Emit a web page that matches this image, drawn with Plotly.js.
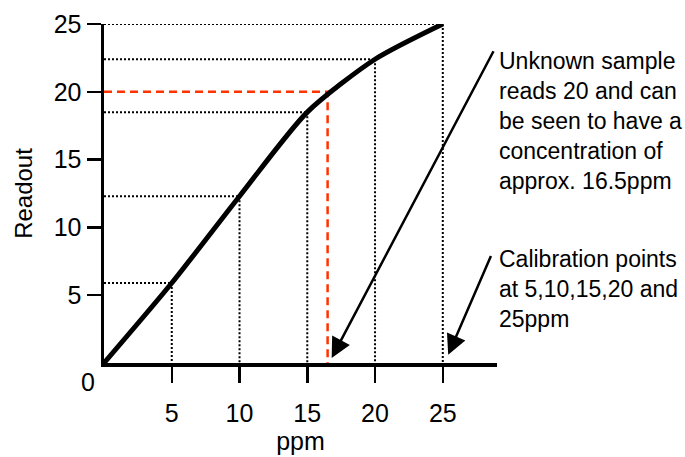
<!DOCTYPE html>
<html>
<head>
<meta charset="utf-8">
<script src="https://cdn.plot.ly/plotly-3.0.1.min.js"></script>
<style>html,body{margin:0;padding:0;background:#fff;}#chart{width:685px;height:457px;}</style>
</head>
<body>
<div id="chart"></div>
<script>
// Calibration data
const calibPpm = [0, 5, 10, 15, 20, 25];
const calibReadout = [0, 5.9, 12.3, 18.5, 22.4, 25];
// Unknown sample
const unknownReadout = 20;
const unknownPpm = 16.5;
// Tick values
const xTicks = [5, 10, 15, 20, 25];
const yTicks = [5, 10, 15, 20, 25];
// Annotation texts
const unknownText = ["Unknown sample", "reads 20 and can", "be seen to have a", "concentration of", "approx. 16.5ppm"];
const calibText = ["Calibration points", "at 5,10,15,20 and", "25ppm"];

const FONT = "Liberation Sans, Arial, Helvetica, sans-serif";

// dotted guide lines built from calibration points
const hx = [], hy = [], vx = [], vy = [];
for (let i = 1; i < calibPpm.length; i++) {
  hx.push(0, calibPpm[i], null); hy.push(calibReadout[i], calibReadout[i], null);
  vx.push(calibPpm[i], calibPpm[i], null); vy.push(calibReadout[i], 0, null);
}

const traces = [
  {x: hx, y: hy, mode: 'lines', line: {color: '#000', width: 2, dash: '2px,2px'}, hoverinfo: 'skip', cliponaxis: false},
  {x: vx, y: vy, mode: 'lines', line: {color: '#000', width: 2, dash: '2px,2px'}, hoverinfo: 'skip'},
  {x: [0, unknownPpm, unknownPpm], y: [unknownReadout, unknownReadout, 0], mode: 'lines',
   line: {color: '#ff3300', width: 2.5, dash: '8px,5px'}, hoverinfo: 'skip'},
  {x: calibPpm, y: calibReadout, mode: 'lines', line: {color: '#000', width: 5, shape: 'spline', smoothing: 0.7}, hoverinfo: 'skip'}
];

const annotations = [
  {x: 1, y: 0.714, xref: 'paper', yref: 'paper', xanchor: 'left', yanchor: 'middle', align: 'left', xshift: 0,
   text: unknownText.join('<br>'), showarrow: false, font: {family: FONT, size: 23, color: '#000'}},
  {x: 1, y: 0.218, xref: 'paper', yref: 'paper', xanchor: 'left', yanchor: 'middle', align: 'left', xshift: 0,
   text: calibText.join('<br>'), showarrow: false, font: {family: FONT, size: 23, color: '#000'}},
  {x: 16.8, y: 0.37, ax: 28.8, ay: 23.1, xref: 'x', yref: 'y', axref: 'x', ayref: 'y', text: '',
   showarrow: true, arrowhead: 2, arrowsize: 1.6, arrowwidth: 2.5, arrowcolor: '#000'},
  {x: 25.4, y: 0.6, ax: 28.6, ay: 8.0, xref: 'x', yref: 'y', axref: 'x', ayref: 'y', text: '',
   showarrow: true, arrowhead: 2, arrowsize: 1.6, arrowwidth: 2.5, arrowcolor: '#000'},
  {x: -0.0407, y: -0.056, xref: 'paper', yref: 'paper', xanchor: 'center', yanchor: 'middle', text: '0', showarrow: false,
   font: {family: FONT, size: 25, color: '#000'}}
];

const layout = {
  width: 685, height: 457,
  margin: {l: 104, r: 188, t: 24, b: 94},
  paper_bgcolor: '#fff', plot_bgcolor: '#fff',
  showlegend: false,
  font: {family: FONT, size: 25, color: '#000'},
  xaxis: {
    range: [0, 29], tickvals: xTicks, ticktext: xTicks.map(String),
    showgrid: false, zeroline: false, showline: true, linecolor: '#000', linewidth: 3.5,
    ticks: 'outside', ticklen: 16, tickwidth: 2.5, tickcolor: '#000', ticklabelstandoff: 9,
    tickfont: {family: FONT, size: 25, color: '#000'},
    title: {text: 'ppm', font: {family: FONT, size: 25, color: '#000'}, standoff: 6},
    fixedrange: true
  },
  yaxis: {
    range: [0, 25], tickvals: yTicks, ticktext: yTicks.map(String),
    showgrid: false, zeroline: false, showline: true, linecolor: '#000', linewidth: 3.5,
    ticks: 'outside', ticklen: 14, tickwidth: 2.5, tickcolor: '#000', ticklabelstandoff: 0,
    tickfont: {family: FONT, size: 25, color: '#000'},
    title: {text: 'Readout', font: {family: FONT, size: 24, color: '#000'}, standoff: 15},
    fixedrange: true
  },
  annotations: annotations
};

Plotly.newPlot('chart', traces, layout, {displayModeBar: false, staticPlot: true});
</script>
</body>
</html>
